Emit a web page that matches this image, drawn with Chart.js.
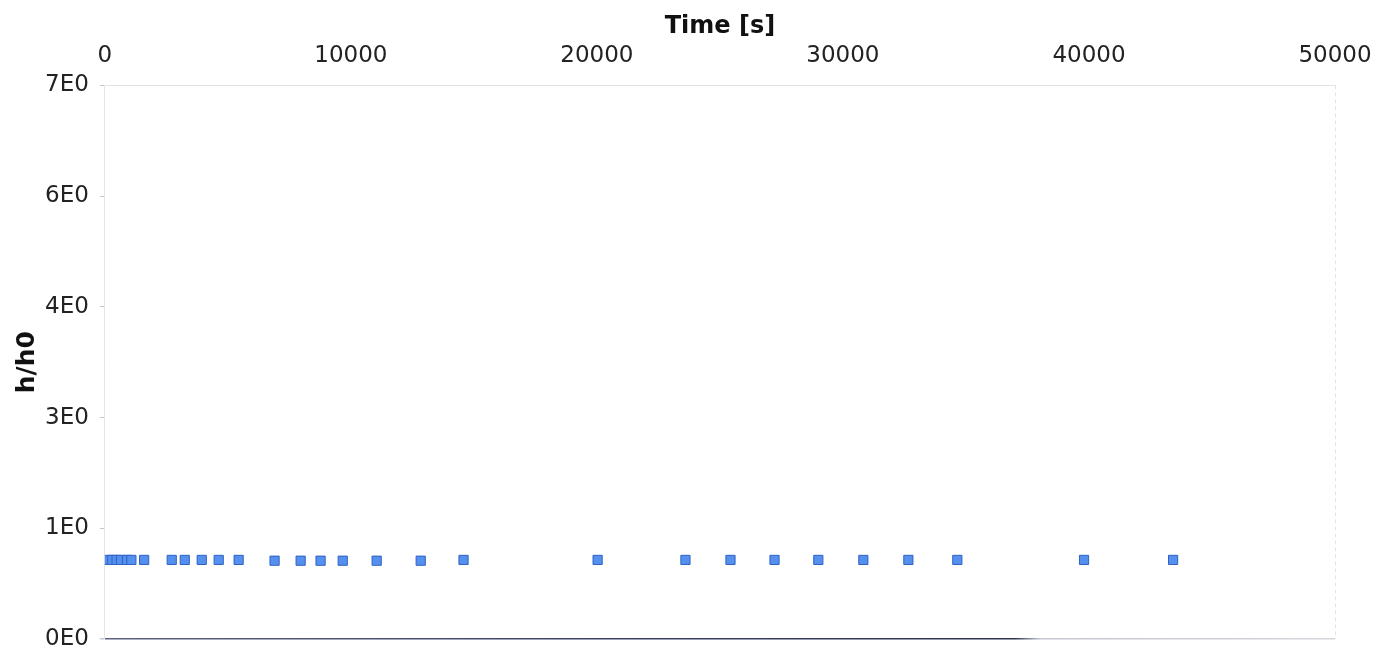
<!DOCTYPE html>
<html>
<head>
<meta charset="utf-8">
<script src="https://cdn.jsdelivr.net/npm/chart.js@4.4.1/dist/chart.umd.min.js"></script>
<style>
  html, body { margin: 0; padding: 0; background: #ffffff; }
  #wrap { width: 1377px; height: 654px; }
</style>
</head>
<body>
<div id="wrap"><canvas id="chart" width="1377" height="654"></canvas></div>
<script>
// Measurement times [s]
const times = [120, 300, 480, 660, 900, 1080, 1600, 2720, 3250, 3940, 4630, 5440,
               6900, 7960, 8770, 9670, 11050, 12840, 14580, 20030, 23600, 25430,
               27220, 29000, 30830, 32660, 34650, 39800, 43420];
// Normalised height h/h0
const ratios = [1.0, 1.0, 1.0, 1.0, 1.0, 1.0, 1.0, 1.0, 1.0, 1.0, 1.0, 1.0,
                0.99, 0.99, 0.99, 0.99, 0.99, 0.99, 1.0, 1.0, 1.0, 1.0,
                1.0, 1.0, 1.0, 1.0, 1.0, 1.0, 1.0];
// Axis ticks
const xTickValues = [0, 10000, 20000, 30000, 40000, 50000];
const yTickValues = [0, 1.4, 2.8, 4.2, 5.6, 7.0];
const yTickLabels = ['0E0', '1E0', '3E0', '4E0', '6E0', '7E0'];

const points = times.map((t, i) => ({ x: t, y: ratios[i] }));

const FONT = 'DejaVu Sans, Verdana, sans-serif';

// faint frame on the right-hand side of the plot area
const rightFrame = {
  id: 'rightFrame',
  beforeDatasetsDraw(chart) {
    const { ctx, chartArea: a } = chart;
    ctx.save();
    ctx.strokeStyle = '#e4e4e8';
    ctx.lineWidth = 1;
    ctx.setLineDash([4, 3]);
    ctx.beginPath();
    ctx.moveTo(a.right + 0.5, a.top);
    ctx.lineTo(a.right + 0.5, a.bottom);
    ctx.stroke();
    ctx.restore();
  }
};

// baseline: dark over most of its length, fading to light grey at the right
function baselineColor(c) {
  const area = c.chart.chartArea;
  if (!area) return '#3a4262';
  const g = c.chart.ctx.createLinearGradient(area.left, 0, area.right, 0);
  g.addColorStop(0, '#5c6380');
  g.addColorStop(0.4, '#3a4262');
  g.addColorStop(0.74, '#2c3350');
  g.addColorStop(0.76, '#c4c6d0');
  g.addColorStop(1, '#d6d6dc');
  return g;
}

new Chart(document.getElementById('chart'), {
  type: 'scatter',
  data: {
    datasets: [{
      label: 'h/h0',
      data: points,
      pointStyle: 'rect',
      pointRadius: 6.5,
      pointHoverRadius: 6.5,
      backgroundColor: '#5590ee',
      borderColor: '#2f62c4',
      borderWidth: 1
    }]
  },
  options: {
    responsive: false,
    animation: false,
    layout: { padding: { top: 12, right: 42, bottom: 15, left: 12 } },
    plugins: {
      legend: { display: false },
      tooltip: { enabled: false }
    },
    scales: {
      x: {
        type: 'linear',
        position: 'top',
        min: 0,
        max: 50000,
        afterBuildTicks(scale) { scale.ticks = xTickValues.map(v => ({ value: v })); },
        ticks: {
          color: '#222222',
          font: { family: FONT, size: 23 },
          padding: 1,
          maxRotation: 0,
          callback: v => String(v)
        },
        grid: {
          display: true,
          drawOnChartArea: false,
          drawTicks: true,
          tickLength: 15,
          color: 'rgba(0,0,0,0)'
        },
        border: { display: true, color: '#e2e2e6', dash: [4, 3] },
        title: {
          display: true,
          text: 'Time [s]',
          color: '#111111',
          font: { family: FONT, size: 24, weight: 'bold' },
          padding: { top: 0, bottom: 0 }
        }
      },
      y: {
        type: 'linear',
        min: 0,
        max: 7,
        afterBuildTicks(scale) { scale.ticks = yTickValues.map(v => ({ value: v })); },
        ticks: {
          color: '#222222',
          font: { family: FONT, size: 23 },
          padding: 0,
          callback: (v, i) => yTickLabels[i]
        },
        grid: {
          drawTicks: true,
          tickLength: 16,
          color: c => (c.index === 0 ? baselineColor(c) : 'rgba(0,0,0,0)'),
          tickColor: '#c8c8cc',
          tickBorderDash: [5, 40],
          tickBorderDashOffset: 34,
          lineWidth: c => (c.index === 0 ? 1.5 : 1)
        },
        border: { display: true, color: '#e6e6ea' },
        title: {
          display: true,
          text: 'h/h0',
          color: '#111111',
          font: { family: FONT, size: 25, weight: 'bold' },
          padding: { top: 0, bottom: 3 }
        }
      }
    }
  },
  plugins: [rightFrame]
});
</script>
</body>
</html>
